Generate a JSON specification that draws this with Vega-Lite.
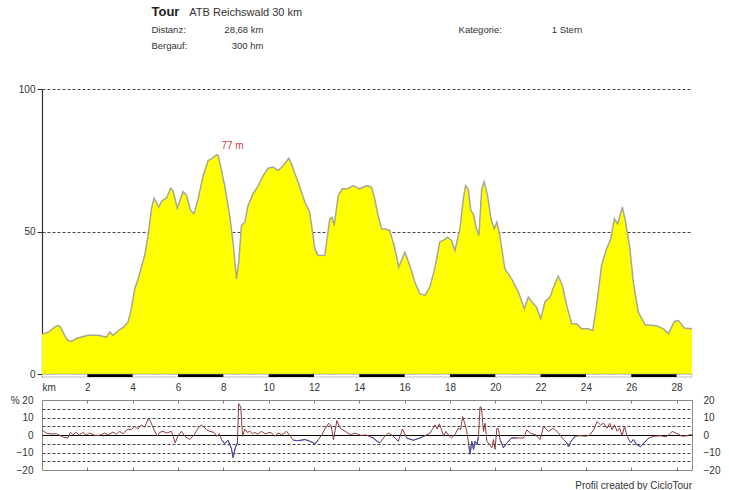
{
  "$schema": "https://vega.github.io/schema/vega-lite/v6.json",
  "background": "white",
  "padding": {"left": 9, "top": 6, "right": 5, "bottom": 0},
  "spacing": 2,
  "config": {
    "font": "Liberation Sans",
    "view": {"stroke": null},
    "axis": {"labelFont": "Liberation Sans", "labelFontSize": 10, "labelColor": "#333333"},
    "title": {"font": "Liberation Sans"}
  },
  "datasets": {
    "profile": [
      {"km": 0, "e": 14}, {"km": 0.3, "e": 14.8}, {"km": 0.55, "e": 16.5}, {"km": 0.71, "e": 17.1}, {"km": 0.82, "e": 16.5},
      {"km": 1.0, "e": 13.5}, {"km": 1.15, "e": 11.8}, {"km": 1.3, "e": 11.5}, {"km": 1.5, "e": 12.5}, {"km": 1.73, "e": 13.0},
      {"km": 2.03, "e": 13.6}, {"km": 2.47, "e": 13.6}, {"km": 2.84, "e": 13.0}, {"km": 2.99, "e": 14.8}, {"km": 3.13, "e": 13.6},
      {"km": 3.38, "e": 15.4}, {"km": 3.6, "e": 16.5}, {"km": 3.8, "e": 18.3}, {"km": 3.94, "e": 22.9}, {"km": 4.09, "e": 29.9},
      {"km": 4.24, "e": 33.4}, {"km": 4.53, "e": 41.6}, {"km": 4.68, "e": 48.6}, {"km": 4.83, "e": 58.0}, {"km": 4.94, "e": 61.7},
      {"km": 5.15, "e": 58.6}, {"km": 5.3, "e": 60.9}, {"km": 5.49, "e": 61.7}, {"km": 5.68, "e": 65.2}, {"km": 5.78, "e": 64.4},
      {"km": 5.97, "e": 58.2}, {"km": 6.22, "e": 64.0}, {"km": 6.37, "e": 62.8}, {"km": 6.56, "e": 57.4}, {"km": 6.71, "e": 56.2},
      {"km": 6.89, "e": 61.5}, {"km": 7.11, "e": 69.6}, {"km": 7.33, "e": 74.9}, {"km": 7.47, "e": 75.5}, {"km": 7.7, "e": 76.9},
      {"km": 7.77, "e": 76.7}, {"km": 7.89, "e": 72.6}, {"km": 8.06, "e": 66.1}, {"km": 8.28, "e": 55.6}, {"km": 8.43, "e": 46.3},
      {"km": 8.58, "e": 33.4}, {"km": 8.68, "e": 39.3}, {"km": 8.8, "e": 52.1}, {"km": 8.95, "e": 53.3}, {"km": 9.09, "e": 59.1},
      {"km": 9.31, "e": 63.2}, {"km": 9.54, "e": 66.1}, {"km": 9.76, "e": 69.6}, {"km": 9.98, "e": 72.2}, {"km": 10.2, "e": 72.6},
      {"km": 10.42, "e": 71.4}, {"km": 10.64, "e": 73.1}, {"km": 10.89, "e": 75.7}, {"km": 11.0, "e": 73.8}, {"km": 11.3, "e": 67.3},
      {"km": 11.6, "e": 60.3}, {"km": 11.81, "e": 56.8}, {"km": 12.04, "e": 44.0}, {"km": 12.18, "e": 41.6}, {"km": 12.48, "e": 41.7},
      {"km": 12.7, "e": 54.5}, {"km": 12.8, "e": 55.0}, {"km": 12.89, "e": 52.1}, {"km": 13.07, "e": 62.6}, {"km": 13.25, "e": 65.0},
      {"km": 13.51, "e": 65.1}, {"km": 13.73, "e": 66.1}, {"km": 14.02, "e": 65.0}, {"km": 14.32, "e": 66.1}, {"km": 14.54, "e": 65.6},
      {"km": 14.68, "e": 61.5}, {"km": 14.83, "e": 55.6}, {"km": 14.98, "e": 51.0}, {"km": 15.2, "e": 50.8}, {"km": 15.34, "e": 50.4},
      {"km": 15.57, "e": 44.0}, {"km": 15.74, "e": 37.5}, {"km": 16.01, "e": 42.8}, {"km": 16.23, "e": 38.1}, {"km": 16.45, "e": 32.3},
      {"km": 16.67, "e": 28.2}, {"km": 16.89, "e": 27.6}, {"km": 17.11, "e": 30.5}, {"km": 17.33, "e": 37.0}, {"km": 17.55, "e": 46.3},
      {"km": 17.7, "e": 46.9}, {"km": 17.89, "e": 48.0}, {"km": 18.07, "e": 46.9}, {"km": 18.22, "e": 43.4}, {"km": 18.44, "e": 51.0},
      {"km": 18.59, "e": 61.5}, {"km": 18.69, "e": 66.1}, {"km": 18.81, "e": 64.8}, {"km": 18.92, "e": 57.4}, {"km": 19.03, "e": 56.2},
      {"km": 19.17, "e": 51.0}, {"km": 19.28, "e": 48.6}, {"km": 19.4, "e": 65.0}, {"km": 19.51, "e": 67.5}, {"km": 19.66, "e": 62.6},
      {"km": 19.81, "e": 54.5}, {"km": 19.95, "e": 51.0}, {"km": 20.07, "e": 53.3}, {"km": 20.2, "e": 48.6}, {"km": 20.42, "e": 37.0},
      {"km": 20.72, "e": 33.4}, {"km": 21.02, "e": 28.8}, {"km": 21.28, "e": 22.9}, {"km": 21.46, "e": 27.0}, {"km": 21.65, "e": 25.0},
      {"km": 21.82, "e": 23.5}, {"km": 22.01, "e": 19.4}, {"km": 22.19, "e": 25.3}, {"km": 22.41, "e": 27.0}, {"km": 22.6, "e": 31.1},
      {"km": 22.78, "e": 34.4}, {"km": 22.96, "e": 31.1}, {"km": 23.15, "e": 24.1}, {"km": 23.37, "e": 17.7}, {"km": 23.59, "e": 17.7},
      {"km": 23.81, "e": 15.9}, {"km": 24.11, "e": 15.9}, {"km": 24.3, "e": 15.3}, {"km": 24.47, "e": 24.1}, {"km": 24.69, "e": 38.1},
      {"km": 24.91, "e": 44.0}, {"km": 25.1, "e": 47.5}, {"km": 25.25, "e": 54.5}, {"km": 25.4, "e": 52.7}, {"km": 25.61, "e": 58.6},
      {"km": 25.75, "e": 53.3}, {"km": 25.94, "e": 44.0}, {"km": 26.09, "e": 32.3}, {"km": 26.31, "e": 21.8}, {"km": 26.61, "e": 17.3},
      {"km": 27.12, "e": 17.0}, {"km": 27.42, "e": 15.9}, {"km": 27.64, "e": 14.2}, {"km": 27.9, "e": 18.5}, {"km": 28.08, "e": 18.8},
      {"km": 28.34, "e": 16.2}, {"km": 28.68, "e": 15.9}
    ],
    "grad": [
      {"km": 0, "g": 3.0}, {"km": 0.19, "g": 1.1}, {"km": 0.41, "g": 0.6}, {"km": 0.63, "g": 0.7}, {"km": 0.92, "g": -1.1},
      {"km": 1.14, "g": -1.7}, {"km": 1.26, "g": 1.5}, {"km": 1.36, "g": 0.2}, {"km": 1.51, "g": 1.5}, {"km": 1.65, "g": 0},
      {"km": 1.8, "g": 1.5}, {"km": 1.95, "g": 0}, {"km": 2.1, "g": 1.1}, {"km": 2.32, "g": -0.2}, {"km": 2.54, "g": -0.2},
      {"km": 2.76, "g": 1.1}, {"km": 2.91, "g": 0}, {"km": 3.13, "g": 1.7}, {"km": 3.28, "g": 0.4}, {"km": 3.42, "g": 2.1},
      {"km": 3.57, "g": 0.7}, {"km": 3.79, "g": 3.4}, {"km": 3.94, "g": 3.0}, {"km": 4.09, "g": 4.9}, {"km": 4.23, "g": 3.4},
      {"km": 4.38, "g": 5.8}, {"km": 4.53, "g": 4.5}, {"km": 4.7, "g": 9.5}, {"km": 4.79, "g": 7.7}, {"km": 4.94, "g": 3.0},
      {"km": 5.09, "g": -0.7}, {"km": 5.19, "g": 1.5}, {"km": 5.34, "g": 2.1}, {"km": 5.49, "g": 1.1}, {"km": 5.71, "g": 2.1},
      {"km": 5.88, "g": -4.5}, {"km": 6.0, "g": -0.4}, {"km": 6.15, "g": 2.1}, {"km": 6.3, "g": -0.7}, {"km": 6.52, "g": -2.6},
      {"km": 6.71, "g": 0.2}, {"km": 6.89, "g": 3.9}, {"km": 7.03, "g": 5.8}, {"km": 7.15, "g": 4.5}, {"km": 7.26, "g": 3.0},
      {"km": 7.4, "g": 2.1}, {"km": 7.59, "g": 1.5}, {"km": 7.7, "g": -0.7}, {"km": 7.84, "g": 0.7},
      {"km": 7.92, "g": -2.6, "s": "A"}, {"km": 8.06, "g": -4.9, "s": "A"}, {"km": 8.21, "g": -3.0, "s": "A"}, {"km": 8.36, "g": -7.9, "s": "A"},
      {"km": 8.43, "g": -12.9, "s": "A"}, {"km": 8.53, "g": -7.3, "s": "A"}, {"km": 8.62, "g": -4.5, "s": "A"},
      {"km": 8.68, "g": 17.9}, {"km": 8.77, "g": 16.0}, {"km": 8.85, "g": -0.7}, {"km": 8.95, "g": 3.4}, {"km": 9.06, "g": 1.5},
      {"km": 9.17, "g": 2.1}, {"km": 9.28, "g": 0.8}, {"km": 9.39, "g": 1.5}, {"km": 9.52, "g": 0.5}, {"km": 9.68, "g": 2.1},
      {"km": 9.8, "g": 1.0}, {"km": 9.91, "g": 0.7}, {"km": 10.02, "g": 1.5}, {"km": 10.13, "g": 1.1}, {"km": 10.27, "g": -0.7},
      {"km": 10.42, "g": 1.1}, {"km": 10.57, "g": 0.2}, {"km": 10.68, "g": 1.0}, {"km": 10.79, "g": 2.1}, {"km": 10.94, "g": -0.4},
      {"km": 11.09, "g": -3.0, "s": "B"}, {"km": 11.31, "g": -3.2, "s": "B"}, {"km": 11.61, "g": -2.6, "s": "B"}, {"km": 11.83, "g": -3.6, "s": "B"},
      {"km": 12.05, "g": -5.0, "s": "B"}, {"km": 12.2, "g": -2.6, "s": "B"},
      {"km": 12.35, "g": 0.2}, {"km": 12.5, "g": 3.9}, {"km": 12.65, "g": 6.7}, {"km": 12.76, "g": 5.2}, {"km": 12.86, "g": -2.6},
      {"km": 13.01, "g": 8.2}, {"km": 13.16, "g": 3.9}, {"km": 13.38, "g": 2.1}, {"km": 13.6, "g": 0.2}, {"km": 13.82, "g": 1.1},
      {"km": 14.05, "g": -0.2}, {"km": 14.32, "g": 0},
      {"km": 14.5, "g": -1.2, "s": "C"}, {"km": 14.62, "g": -1.7, "s": "C"}, {"km": 14.78, "g": -3.5, "s": "C"}, {"km": 14.91, "g": -4.5, "s": "C"},
      {"km": 15.13, "g": -0.7}, {"km": 15.28, "g": 1.1},
      {"km": 15.5, "g": -0.7, "s": "D"}, {"km": 15.72, "g": -3.6, "s": "D"},
      {"km": 15.91, "g": 3.4},
      {"km": 16.09, "g": -1.7, "s": "E"}, {"km": 16.38, "g": -3.0, "s": "E"}, {"km": 16.68, "g": -1.7, "s": "E"}, {"km": 16.9, "g": -0.4, "s": "E"},
      {"km": 17.12, "g": 1.1}, {"km": 17.26, "g": 3.9}, {"km": 17.34, "g": 5.8}, {"km": 17.44, "g": 3.4}, {"km": 17.53, "g": 6.4},
      {"km": 17.63, "g": 3.0}, {"km": 17.73, "g": -0.7}, {"km": 17.82, "g": 2.1}, {"km": 17.93, "g": 0}, {"km": 18.07, "g": -1.7},
      {"km": 18.22, "g": 0.2}, {"km": 18.37, "g": 3.9}, {"km": 18.47, "g": 3.0}, {"km": 18.56, "g": 10.5}, {"km": 18.65, "g": 6.7},
      {"km": 18.74, "g": 2.1},
      {"km": 18.84, "g": -6.4, "s": "F"}, {"km": 18.89, "g": -11.0, "s": "F"}, {"km": 18.96, "g": -3.6, "s": "F"}, {"km": 19.04, "g": -8.2, "s": "F"},
      {"km": 19.11, "g": -3.6, "s": "F"}, {"km": 19.19, "g": -5.4, "s": "F"}, {"km": 19.26, "g": -0.7, "s": "F"},
      {"km": 19.33, "g": 16.1}, {"km": 19.39, "g": 15.7}, {"km": 19.48, "g": 2.1}, {"km": 19.55, "g": 6.7}, {"km": 19.63, "g": -3.6},
      {"km": 19.74, "g": -5.4}, {"km": 19.85, "g": -7.3}, {"km": 19.92, "g": -2.6}, {"km": 19.99, "g": -8.2}, {"km": 20.07, "g": 3.9},
      {"km": 20.14, "g": 3.4},
      {"km": 20.21, "g": -2.6, "s": "G"}, {"km": 20.36, "g": -7.3, "s": "G"}, {"km": 20.51, "g": -4.5, "s": "G"}, {"km": 20.73, "g": -1.7, "s": "G"},
      {"km": 20.95, "g": -1.7, "s": "G"},
      {"km": 21.25, "g": -1.7}, {"km": 21.39, "g": 3.0}, {"km": 21.54, "g": 1.1}, {"km": 21.76, "g": 0.2}, {"km": 21.98, "g": -2.6},
      {"km": 22.13, "g": 4.9}, {"km": 22.35, "g": 2.1}, {"km": 22.57, "g": 3.9}, {"km": 22.79, "g": 1.1},
      {"km": 23.01, "g": -2.6, "s": "H"}, {"km": 23.16, "g": -4.5, "s": "H"}, {"km": 23.23, "g": -6.7, "s": "H"}, {"km": 23.34, "g": -3.6, "s": "H"},
      {"km": 23.53, "g": -0.7, "s": "H"},
      {"km": 23.75, "g": -0.4}, {"km": 23.97, "g": -0.7}, {"km": 24.16, "g": -0.2}, {"km": 24.34, "g": 3.0}, {"km": 24.49, "g": 7.7},
      {"km": 24.64, "g": 5.8}, {"km": 24.78, "g": 6.7}, {"km": 24.93, "g": 3.9}, {"km": 25.05, "g": 6.7}, {"km": 25.15, "g": 3.0},
      {"km": 25.26, "g": 5.8}, {"km": 25.38, "g": 2.1}, {"km": 25.49, "g": 3.9}, {"km": 25.6, "g": -0.4}, {"km": 25.7, "g": 4.9},
      {"km": 25.82, "g": -0.7},
      {"km": 25.97, "g": -4.5, "s": "I"}, {"km": 26.09, "g": -2.6, "s": "I"}, {"km": 26.23, "g": -5.4, "s": "I"}, {"km": 26.41, "g": -6.7, "s": "I"},
      {"km": 26.59, "g": -4.1, "s": "I"}, {"km": 26.78, "g": -1.7, "s": "I"},
      {"km": 27.0, "g": -0.7}, {"km": 27.3, "g": -0.4}, {"km": 27.52, "g": -1.1}, {"km": 27.67, "g": 0.2}, {"km": 27.81, "g": 2.1},
      {"km": 28.03, "g": 0.7}, {"km": 28.25, "g": -0.7}, {"km": 28.47, "g": -0.4}, {"km": 28.59, "g": 0.2}, {"km": 28.68, "g": 0}
    ],
    "band": [
      {"a": 2, "b": 4}, {"a": 6, "b": 8}, {"a": 10, "b": 12}, {"a": 14, "b": 16}, {"a": 18, "b": 20},
      {"a": 22, "b": 24}, {"a": 26, "b": 28}
    ]
  },
  "vconcat": [
    {
      "width": 650,
      "height": 288,
      "layer": [
        {
          "data": {"name": "profile"},
          "mark": {"type": "area", "color": "#ffff00", "opacity": 1, "line": {"color": "#a8a890", "strokeWidth": 1.5}},
          "encoding": {
            "x": {
              "field": "km", "type": "quantitative", "title": null,
              "scale": {"domain": [0, 28.68], "nice": false, "zero": false},
              "axis": {
                "values": [0, 2, 4, 6, 8, 10, 12, 14, 16, 18, 20, 22, 24, 26, 28],
                "labelExpr": "datum.value == 0 ? 'km' : datum.label",
                "labelAlign": {"condition": {"test": "datum.value == 0", "value": "left"}, "value": "center"},
                "domain": false, "ticks": false, "grid": false, "labelPadding": 5, "labelFlush": false
              }
            },
            "y": {
              "field": "e", "type": "quantitative", "title": null,
              "scale": {"domain": [-1, 100], "nice": false},
              "axis": {
                "values": [0, 50, 100],
                "grid": true, "gridDash": [3, 2], "gridColor": "#444444", "gridWidth": 1,
                "domain": true, "domainColor": "#333333", "domainWidth": 1.2,
                "ticks": true, "tickSize": 5, "tickColor": "#333333",
                "labelPadding": 2
              }
            }
          }
        },
        {
          "data": {"values": [{"a": 0, "b": 28.68}]},
          "mark": {"type": "rect", "fill": "white", "stroke": "#999999", "strokeWidth": 0.6},
          "encoding": {
            "x": {"field": "a", "type": "quantitative", "title": null},
            "x2": {"field": "b"},
            "y": {"datum": -1, "type": "quantitative", "title": null},
            "y2": {"datum": 0}
          }
        },
        {
          "data": {"name": "band"},
          "mark": {"type": "rect", "fill": "#000000"},
          "encoding": {
            "x": {"field": "a", "type": "quantitative", "title": null},
            "x2": {"field": "b"},
            "y": {"datum": -1, "type": "quantitative", "title": null},
            "y2": {"datum": 0}
          }
        },
        {
          "data": {"values": [{"km": 7.7, "e": 77, "t": "77 m"}]},
          "mark": {"type": "text", "color": "#d03c3c", "fontSize": 10, "dx": 16, "dy": -9, "align": "center", "baseline": "middle"},
          "encoding": {
            "x": {"field": "km", "type": "quantitative", "title": null},
            "y": {"field": "e", "type": "quantitative", "title": null},
            "text": {"field": "t"}
          }
        },
        {
          "data": {"values": [{"t": "Tour"}]},
          "mark": {"type": "text", "align": "left", "baseline": "middle", "fontSize": 13, "fontWeight": "bold", "color": "#222222"},
          "encoding": {"x": {"datum": 4.83, "type": "quantitative"}, "y": {"datum": 127, "type": "quantitative"}, "text": {"field": "t"}}
        },
        {
          "data": {"values": [{"t": "ATB Reichswald 30 km"}]},
          "mark": {"type": "text", "align": "left", "baseline": "middle", "fontSize": 11, "color": "#333333"},
          "encoding": {"x": {"datum": 6.5, "type": "quantitative"}, "y": {"datum": 126.8, "type": "quantitative"}, "text": {"field": "t"}}
        },
        {
          "data": {"values": [{"t": "Distanz:"}]},
          "mark": {"type": "text", "align": "left", "baseline": "middle", "fontSize": 9.5, "color": "#333333"},
          "encoding": {"x": {"datum": 4.83, "type": "quantitative"}, "y": {"datum": 120.7, "type": "quantitative"}, "text": {"field": "t"}}
        },
        {
          "data": {"values": [{"t": "28,68 km"}]},
          "mark": {"type": "text", "align": "right", "baseline": "middle", "fontSize": 9.5, "color": "#333333"},
          "encoding": {"x": {"datum": 9.77, "type": "quantitative"}, "y": {"datum": 120.7, "type": "quantitative"}, "text": {"field": "t"}}
        },
        {
          "data": {"values": [{"t": "Bergauf:"}]},
          "mark": {"type": "text", "align": "left", "baseline": "middle", "fontSize": 9.5, "color": "#333333"},
          "encoding": {"x": {"datum": 4.83, "type": "quantitative"}, "y": {"datum": 115.1, "type": "quantitative"}, "text": {"field": "t"}}
        },
        {
          "data": {"values": [{"t": "300 hm"}]},
          "mark": {"type": "text", "align": "right", "baseline": "middle", "fontSize": 9.5, "color": "#333333"},
          "encoding": {"x": {"datum": 9.77, "type": "quantitative"}, "y": {"datum": 115.1, "type": "quantitative"}, "text": {"field": "t"}}
        },
        {
          "data": {"values": [{"t": "Kategorie:"}]},
          "mark": {"type": "text", "align": "left", "baseline": "middle", "fontSize": 9.5, "color": "#333333"},
          "encoding": {"x": {"datum": 18.38, "type": "quantitative"}, "y": {"datum": 120.7, "type": "quantitative"}, "text": {"field": "t"}}
        },
        {
          "data": {"values": [{"t": "1 Stern"}]},
          "mark": {"type": "text", "align": "left", "baseline": "middle", "fontSize": 9.5, "color": "#333333"},
          "encoding": {"x": {"datum": 22.49, "type": "quantitative"}, "y": {"datum": 120.7, "type": "quantitative"}, "text": {"field": "t"}}
        }
      ]
    },
    {
      "width": 650,
      "height": 70,
      "view": {"stroke": "#888888", "strokeWidth": 1},
      "title": {"text": "Profil created by CicloTour", "orient": "bottom", "anchor": "end", "frame": "group", "fontSize": 10, "fontWeight": "normal", "color": "#333333", "offset": 6},
      "data": {"name": "grad"},
      "layer": [
        {
          "mark": {"type": "line", "color": "#8b3c3c", "strokeWidth": 1},
          "encoding": {
            "x": {
              "field": "km", "type": "quantitative", "title": null,
              "scale": {"domain": [0, 28.68], "nice": false, "zero": false},
              "axis": {"orient": "bottom", "values": [2, 4, 6, 8, 10, 12, 14, 16, 18, 20, 22, 24, 26, 28], "labels": false, "domain": false, "grid": false, "ticks": true, "tickSize": -3, "tickColor": "#777777"}
            },
            "y": {
              "field": "g", "type": "quantitative", "title": null,
              "scale": {"domain": [-20, 20], "nice": false},
              "axis": {
                "orient": "left",
                "values": [-20, -15, -10, -5, 0, 5, 10, 15, 20],
                "labelExpr": "datum.value == 20 ? '% 20' : (datum.value % 10 == 0 ? datum.label : '')",
                "domain": false, "ticks": false, "labelPadding": 9,
                "grid": true,
                "gridDash": {"condition": {"test": "datum.value == 0", "value": []}, "value": [3, 2]},
                "gridColor": {"condition": {"test": "datum.value == 0", "value": "#000000"}, "value": "#444444"},
                "gridOpacity": {"condition": {"test": "abs(datum.value) == 20", "value": 0}, "value": 1}
              }
            }
          }
        },
        {
          "transform": [{"filter": "isValid(datum.s)"}],
          "mark": {"type": "line", "color": "#3c4fb8", "strokeWidth": 1},
          "encoding": {
            "x": {
              "field": "km", "type": "quantitative", "title": null,
              "axis": {"orient": "top", "values": [2, 4, 6, 8, 10, 12, 14, 16, 18, 20, 22, 24, 26, 28], "labels": false, "domain": false, "grid": false, "ticks": true, "tickSize": -3, "tickColor": "#777777"}
            },
            "y": {
              "field": "g", "type": "quantitative", "title": null,
              "axis": {"orient": "right", "values": [-20, -10, 0, 10, 20], "domain": false, "ticks": false, "grid": false, "labelPadding": 11}
            },
            "detail": {"field": "s"}
          }
        }
      ],
      "resolve": {"axis": {"x": "independent", "y": "independent"}}
    }
  ]
}
